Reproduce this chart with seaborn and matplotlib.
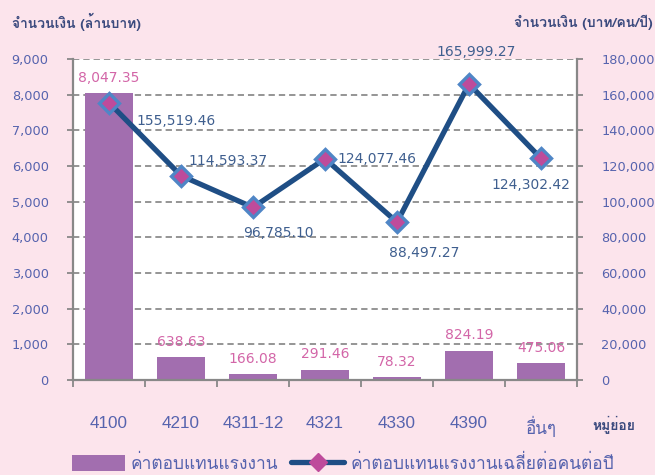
import matplotlib
matplotlib.use("Agg")
import matplotlib.pyplot as plt
import seaborn as sns
import numpy as np
import pandas as pd
from matplotlib import font_manager
from matplotlib.patches import Patch
from matplotlib.lines import Line2D

# ---------------- data ----------------
categories = ["4100", "4210", "4311-12", "4321", "4330", "4390", "อื่นๆ"]
bar_values = [8047.35, 638.63, 166.08, 291.46, 78.32, 824.19, 475.06]
line_values = [155519.46, 114593.37, 96785.10, 124077.46, 88497.27, 165999.27, 124302.42]
left_ticks = [0, 1000, 2000, 3000, 4000, 5000, 6000, 7000, 8000, 9000]
right_ticks = [0, 20000, 40000, 60000, 80000, 100000, 120000, 140000, 160000, 180000]
bar_label_name = "ค่าตอบแทนแรงงาน"
line_label_name = "ค่าตอบแทนแรงงานเฉลี่ยต่อคนต่อปี"
left_title = "จำนวนเงิน (ล้านบาท)"
right_title = "จำนวนเงิน (บาท/คน/ปี)"
x_title = "หมู่ย่อย"

# ---------------- find a Thai-capable font ----------------
thai_family = None
try:
    from fontTools.ttLib import TTFont
    for f in font_manager.fontManager.ttflist:
        try:
            tt = TTFont(f.fname, fontNumber=0, lazy=True)
            cmap = tt.getBestCmap()
            if cmap and 0x0E08 in cmap and 0x0E33 in cmap and 0x0E48 in cmap:
                thai_family = f.name
                break
        except Exception:
            continue
except Exception:
    pass

sns.set_theme(style="white")
thai_fams = ([thai_family] if thai_family else []) + ["DejaVu Sans"]
plt.rcParams["font.family"] = ["DejaVu Sans"] + ([thai_family] if thai_family else [])

BG = "#FCE4EC"
BAR_C = "#A26EAF"
LINE_C = "#1F4E85"
MK_FACE = "#BE4B9B"
MK_EDGE = "#4F86C6"
TICK_C = "#5663AE"
LBL_LINE_C = "#3F5F8F"
LBL_BAR_C = "#D366A8"
TITLE_C = "#3B4A7E"
AX_C = "#888888"
GRID_C = "#8C8C8C"

df = pd.DataFrame({"cat": categories, "bar": bar_values, "line": line_values})

fig = plt.figure(figsize=(6.55, 4.75), dpi=100, facecolor=BG)
ax = fig.add_axes([73 / 655, 1 - 380 / 475, (577 - 73) / 655, (380 - 59) / 475])
ax.set_facecolor("white")

sns.barplot(data=df, x="cat", y="bar", ax=ax, color=BAR_C, width=0.66,
            saturation=1, edgecolor="none", zorder=2)
ax.set_ylim(0, 9000)
ax.set_xlim(-0.5, len(categories) - 0.5)
ax.set_yticks(left_ticks)
ax.set_yticklabels([f"{v:,}" for v in left_ticks])
ax.set_xlabel("")
ax.set_ylabel("")

ax.set_axisbelow(True)
ax.yaxis.grid(True, linestyle=(0, (3.5, 2.2)), color=GRID_C, linewidth=1.3, zorder=0)
ax.xaxis.grid(False)

for s in ["top", "right"]:
    ax.spines[s].set_visible(False)
for s in ["left", "bottom"]:
    ax.spines[s].set_color(AX_C)
    ax.spines[s].set_linewidth(1.6)

ax.tick_params(axis="y", which="major", direction="out", length=4.5, width=1.3,
               color=AX_C, left=True, pad=13, labelsize=9.3, labelcolor=TICK_C)
ax.set_xticks(np.arange(-0.5, len(categories), 1.0), minor=True)
ax.tick_params(axis="x", which="minor", direction="out", length=5, width=1.3,
               color=AX_C, bottom=True)
ax.tick_params(axis="x", which="major", length=0, pad=26, labelsize=12.3,
               labelcolor=TICK_C)
for t in ax.get_xticklabels():
    t.set_fontfamily(["Liberation Sans"] + thai_fams)

ax.bar_label(ax.containers[0], labels=[f"{v:,.2f}" for v in bar_values],
             padding=6, color=LBL_BAR_C, fontsize=10)

# ---------------- line on secondary axis ----------------
ax2 = ax.twinx()
sns.lineplot(data=df, x="cat", y="line", ax=ax2, sort=False, color=LINE_C,
             linewidth=3.8, marker="D", markersize=10, markerfacecolor=MK_FACE,
             markeredgecolor=MK_EDGE, markeredgewidth=2.4, zorder=5)
ax2.set_ylim(0, 180000)
ax2.set_yticks(right_ticks)
ax2.set_yticklabels([f"{v:,}" for v in right_ticks])
ax2.set_ylabel("")
ax2.set_xlabel("")
for s in ["top", "left", "bottom"]:
    ax2.spines[s].set_visible(False)
ax2.spines["right"].set_color(AX_C)
ax2.spines["right"].set_linewidth(1.6)
ax2.tick_params(axis="y", direction="out", length=4.5, width=1.3, color=AX_C,
                right=True, pad=13, labelsize=9.3, labelcolor=TICK_C)
ax2.grid(False)

# line value labels: (dx px, dy px, ha)
offsets = [(27, 18, "left"), (7, -15, "left"), (25, 26, "center"), (12, 0, "left"),
           (27, 31, "center"), (7, -32, "center"), (-10, 27, "center")]
for i, (v, (dx, dy, ha)) in enumerate(zip(line_values, offsets)):
    ax2.annotate(f"{v:,.2f}", xy=(i, v), xytext=(dx * 0.72, -dy * 0.72),
                 textcoords="offset points", ha=ha, va="center",
                 color=LBL_LINE_C, fontsize=10, zorder=6)

# ---------------- titles ----------------
fig.text(12 / 655, 1 - 22 / 475, left_title, ha="left", va="center",
         fontsize=10, fontweight="bold", color=TITLE_C, family=thai_fams)
fig.text(653 / 655, 1 - 22 / 475, right_title, ha="right", va="center",
         fontsize=10, fontweight="bold", color=TITLE_C, family=thai_fams)
fig.text(614 / 655, 1 - 425 / 475, x_title, ha="center", va="center",
         fontsize=10, fontweight="bold", color=TITLE_C, family=thai_fams)

# ---------------- legend ----------------
handles = [Patch(facecolor=BAR_C, edgecolor="none"),
           Line2D([0], [0], color=LINE_C, linewidth=3.8, marker="D",
                  markersize=9.5, markerfacecolor=MK_FACE,
                  markeredgecolor=MK_FACE)]
leg = fig.legend(handles, [bar_label_name, line_label_name], loc="center",
                 bbox_to_anchor=(343 / 655, 1 - 464 / 475), ncol=2, frameon=False,
                 handlelength=3.05, handleheight=1.0, columnspacing=0.75,
                 handletextpad=0.35, borderpad=0.1,
                 prop={"family": thai_fams, "size": 12.5})
for t in leg.get_texts():
    t.set_color(TICK_C)

fig.savefig("out.png", dpi=100, facecolor=BG)
